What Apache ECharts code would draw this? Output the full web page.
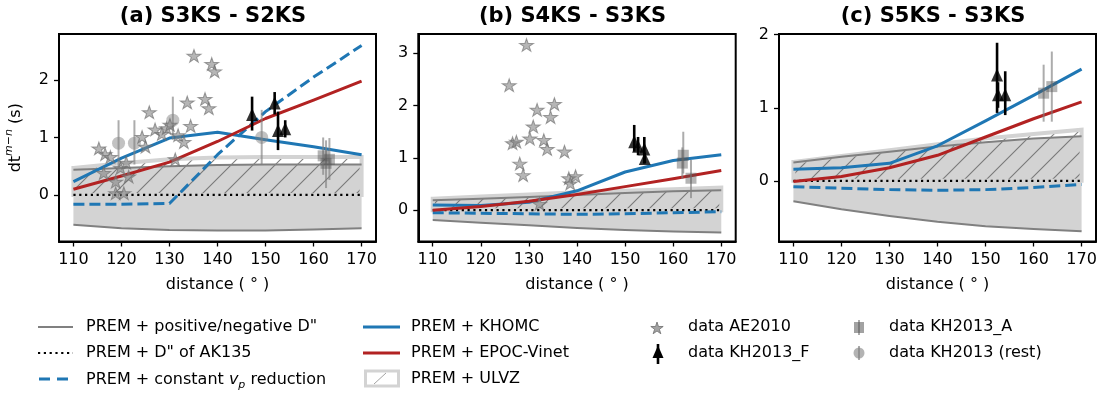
<!DOCTYPE html>
<html><head><meta charset="utf-8">
<script src="https://cdn.jsdelivr.net/npm/echarts@6/dist/echarts.min.js"></script>
<style>html,body{margin:0;padding:0;background:#fff}#c{width:1102px;height:395px}</style>
</head><body><div id="c"></div>
<script>
// ---------------- data ----------------
const distances = [110, 120, 130, 140, 150, 160, 170];
const xTicks = [110, 120, 130, 140, 150, 160, 170];
const yTicksA = [0, 1, 2];
const yTicksB = [0, 1, 2, 3];
const yTicksC = [0, 1, 2];
const panelTitles = ['(a) S3KS - S2KS', '(b) S4KS - S3KS', '(c) S5KS - S3KS'];

// panel (a) S3KS - S2KS
const posDA   = [0.44, 0.47, 0.50, 0.52, 0.53, 0.53, 0.53];
const negDA   = [-0.52, -0.58, -0.61, -0.62, -0.62, -0.60, -0.58];
const ulvzA   = [0.47, 0.55, 0.62, 0.65, 0.66, 0.66, 0.66];
const ak135A  = [0, 0, 0, 0, 0, 0, 0];
const vpRedA  = [-0.16, -0.16, -0.15, 0.70, 1.45, 2.05, 2.60];
const khomcA  = [0.23, 0.64, 0.99, 1.09, 0.96, 0.84, 0.70];
const epocA   = [0.10, 0.33, 0.57, 0.93, 1.33, 1.65, 1.98];
const starsA  = [[115.3,0.81],[116.6,0.71],[117.7,0.66],[116.3,0.38],[118.8,0.23],[119.8,0.47],[121.0,0.56],[121.5,0.32],[118.8,0.03],[120.5,0.03],[124.3,1.01],[125.0,0.84],[125.8,1.44],[127.0,1.14],[128.4,1.06],[129.4,1.16],[130.1,1.22],[131.8,1.04],[133.0,0.92],[131.2,0.62],[134.4,1.20],[133.7,1.61],[137.4,1.67],[138.2,1.51],[135.1,2.42],[138.8,2.28],[139.4,2.15]];
const triA    = [[147.2,1.40,1.12,1.71],[151.9,1.60,1.40,1.79],[152.6,1.12,0.78,1.45],[154.1,1.15,1.00,1.30]]; // x, y, low, high
const sqA     = [[162.0,0.68,0.35,1.00],[162.6,0.55,0.12,0.95],[163.3,0.62,0.26,0.99]];
const circA   = [[119.4,0.90,0.49,1.30],[122.7,0.90,0.53,1.30],[130.7,1.30,0.96,1.71],[149.2,1.00,0.52,1.48]];

// panel (b) S4KS - S3KS
const posDB   = [0.19, 0.22, 0.25, 0.29, 0.33, 0.36, 0.38];
const negDB   = [-0.19, -0.24, -0.29, -0.34, -0.38, -0.41, -0.43];
const ulvzB   = [0.22, 0.26, 0.30, 0.34, 0.37, 0.40, 0.43];
const ak135B  = [0, 0, 0, 0, 0, 0, 0];
const vpRedB  = [-0.05, -0.06, -0.07, -0.08, -0.07, -0.05, -0.03];
const khomcB  = [0.10, 0.09, 0.15, 0.37, 0.73, 0.95, 1.06];
const epocB   = [0.00, 0.07, 0.17, 0.30, 0.45, 0.60, 0.76];
const starsB  = [[129.5,3.16],[125.9,2.39],[135.3,2.03],[131.7,1.92],[134.5,1.78],[130.9,1.60],[130.2,1.37],[133.1,1.34],[126.6,1.28],[127.4,1.31],[133.8,1.17],[137.4,1.12],[128.1,0.89],[128.8,0.67],[138.3,0.61],[139.7,0.65],[138.6,0.51],[132.2,0.12]];
const triB    = [[151.9,1.31,1.12,1.63],[152.7,1.22,1.05,1.40],[154.0,1.17,0.89,1.40],[154.1,0.99,0.90,1.10]];
const sqB     = [[162.1,1.05,0.70,1.50],[161.9,0.90,0.60,1.20],[163.7,0.61,0.23,0.96]];
const circB   = [];

// panel (c) S5KS - S3KS
const posDC   = [0.25, 0.33, 0.40, 0.47, 0.53, 0.58, 0.61];
const negDC   = [-0.28, -0.39, -0.48, -0.56, -0.62, -0.66, -0.69];
const ulvzC   = [0.26, 0.34, 0.42, 0.50, 0.58, 0.64, 0.70];
const ak135C  = [0, 0, 0, 0, 0, 0, 0];
const vpRedC  = [-0.08, -0.10, -0.12, -0.13, -0.12, -0.09, -0.05];
const khomcC  = [0.16, 0.18, 0.24, 0.48, 0.82, 1.17, 1.53];
const epocC   = [-0.01, 0.06, 0.18, 0.35, 0.60, 0.85, 1.08];
const starsC  = [];
const triC    = [[152.4,1.45,0.93,1.89],[152.6,1.18,1.00,1.35],[154.1,1.18,0.90,1.50]];
const sqC     = [[162.1,1.20,0.81,1.59],[163.8,1.29,0.81,1.77]];
const circC   = [];

// ---------------- styling / layout ----------------
const FONT = 'DejaVu Sans';
const BLUE = '#1f77b4', RED = '#b22222', GRAY = '#808080', LGRAY = '#d3d3d3';
const STAR = 'path://M0,-10 L2.245,-3.09 L9.51,-3.09 L3.633,1.18 L5.88,8.09 L0,3.82 L-5.88,8.09 L-3.633,1.18 L-9.51,-3.09 L-2.245,-3.09 Z';
const STAR_FILL = 'rgba(128,128,128,0.72)', STAR_EDGE = 'rgba(110,110,110,0.8)';

const panels = [
  {grid:{left:59, top:34, width:317, height:207.5}, ymin:-0.81, ymax:2.80, yTicks:yTicksA,
   pos:posDA, neg:negDA, ulvz:ulvzA, ak:ak135A, vp:vpRedA, kh:khomcA, ep:epocA, stars:starsA, tri:triA, sq:sqA, circ:circA},
  {grid:{left:418.3, top:34, width:317.4, height:207.5}, ymin:-0.60, ymax:3.37, yTicks:yTicksB,
   pos:posDB, neg:negDB, ulvz:ulvzB, ak:ak135B, vp:vpRedB, kh:khomcB, ep:epocB, stars:starsB, tri:triB, sq:sqB, circ:circB},
  {grid:{left:779, top:34, width:317, height:207.5}, ymin:-0.83, ymax:2.01, yTicks:yTicksC,
   pos:posDC, neg:negDC, ulvz:ulvzC, ak:ak135C, vp:vpRedC, kh:khomcC, ep:epocC, stars:starsC, tri:triC, sq:sqC, circ:circC}
];

function makeHatch() {
  const s = 22;
  const c = document.createElement('canvas');
  c.width = s; c.height = s;
  const g = c.getContext('2d');
  g.strokeStyle = 'rgba(105,105,105,0.85)';
  g.lineWidth = 1.1;
  g.beginPath();
  for (let k = -1; k <= 1; k++) {
    g.moveTo(-2, s + 2 + k * s);
    g.lineTo(s + 2, -2 + k * s);
  }
  g.stroke();
  return c;
}
const hatch = makeHatch();

function pairs(ys) { return distances.map((d, k) => [d, ys[k]]); }

function bandSeries(gi, lo, hi, style, z) {
  return {
    type: 'custom', xAxisIndex: gi, yAxisIndex: gi, z: z, silent: true, clip: true,
    data: [[distances[0], 0]],
    renderItem: function (params, api) {
      const pts = [];
      for (let k = 0; k < distances.length; k++) pts.push(api.coord([distances[k], hi[k]]));
      for (let k = distances.length - 1; k >= 0; k--) pts.push(api.coord([distances[k], lo[k]]));
      return {type: 'polygon', shape: {points: pts}, style: style};
    }
  };
}

function errSeries(gi, rows, color, width, z) {
  return {
    type: 'custom', xAxisIndex: gi, yAxisIndex: gi, z: z, silent: true,
    data: rows.map(r => [r[0], r[2], r[3]]),
    encode: {x: 0, y: [1, 2]},
    renderItem: function (params, api) {
      const a = api.coord([api.value(0), api.value(1)]);
      const b = api.coord([api.value(0), api.value(2)]);
      return {type: 'line', shape: {x1: a[0], y1: a[1], x2: b[0], y2: b[1]}, style: {stroke: color, lineWidth: width}};
    }
  };
}

function lineSeries(gi, ys, color, width, type, z) {
  return {
    type: 'line', xAxisIndex: gi, yAxisIndex: gi, data: pairs(ys), showSymbol: false, symbol: 'none',
    lineStyle: {color: color, width: width, type: type, cap: 'butt', join: 'round'}, z: z, silent: true, animation: false
  };
}

function scatterSeries(gi, pts, symbol, size, color, border, z) {
  return {
    type: 'scatter', xAxisIndex: gi, yAxisIndex: gi, data: pts.map(p => [p[0], p[1]]),
    symbol: symbol, symbolSize: size, symbolKeepAspect: true,
    itemStyle: {color: color, borderColor: border || 'rgba(0,0,0,0)', borderWidth: border ? 1 : 0}, z: z, silent: true
  };
}

const grids = [], xAxes = [], yAxes = [], series = [], titles = [];
panels.forEach((P, i) => {
  grids.push(Object.assign({show: true, borderColor: '#000', borderWidth: 2, backgroundColor: 'rgba(0,0,0,0)'}, P.grid));
  titles.push({text: panelTitles[i], left: P.grid.left + P.grid.width / 2 - 4.5, top: 6, textAlign: 'center', padding: 0,
    textStyle: {fontFamily: FONT, fontWeight: 'bold', fontSize: 21, color: '#000'}});
  xAxes.push({
    gridIndex: i, type: 'value', min: 107, max: 173,
    axisLine: {show: true, onZero: false, lineStyle: {color: '#000', width: 2}},
    axisTick: {show: true, length: 5, customValues: xTicks, lineStyle: {color: '#000', width: 1.3}},
    axisLabel: {customValues: xTicks, fontFamily: FONT, fontSize: 16, color: '#000', margin: 10},
    splitLine: {show: false},
    name: 'distance ( ° )', nameLocation: 'middle', nameGap: 35,
    nameTextStyle: {fontFamily: FONT, fontSize: 16, color: '#000'}
  });
  const ya = {
    gridIndex: i, type: 'value', min: P.ymin, max: P.ymax,
    axisLine: {show: true, onZero: false, lineStyle: {color: '#000', width: 2}},
    axisTick: {show: true, length: 5, customValues: P.yTicks, lineStyle: {color: '#000', width: 1.3}},
    axisLabel: {customValues: P.yTicks, fontFamily: FONT, fontSize: 16, color: '#000', margin: 10},
    splitLine: {show: false}
  };
  if (i === 0) {
    ya.name = '{a|dt}{b|m−n}{a| (s)}';
    ya.nameLocation = 'middle';
    ya.nameGap = 31;
    ya.nameTextStyle = {fontFamily: FONT, fontSize: 16, color: '#000', rich: {
      a: {fontFamily: FONT, fontSize: 16, color: '#000', lineHeight: 24},
      b: {fontFamily: FONT, fontSize: 11, color: '#000', fontStyle: 'italic', verticalAlign: 'top'}
    }};
  }
  yAxes.push(ya);

  series.push(bandSeries(i, P.neg, P.pos, {fill: LGRAY}, 1));
  series.push(bandSeries(i, P.ak, P.ulvz, {fill: {image: hatch, repeat: 'repeat'}, stroke: LGRAY, lineWidth: 4}, 2));
  series.push(lineSeries(i, P.pos, GRAY, 2, 'solid', 3));
  series.push(lineSeries(i, P.neg, GRAY, 2, 'solid', 3));
  series.push(lineSeries(i, P.ak, '#000', 2.2, [2.2, 3.6], 4));
  series.push(lineSeries(i, P.vp, BLUE, 3, [11, 5], 5));
  series.push(lineSeries(i, P.kh, BLUE, 3, 'solid', 6));
  series.push(lineSeries(i, P.ep, RED, 3, 'solid', 7));
  series.push(errSeries(i, P.sq.concat(P.circ), 'rgba(128,128,128,0.65)', 2, 8));
  series.push(scatterSeries(i, P.circ, 'circle', 13, 'rgba(128,128,128,0.6)', null, 9));
  series.push(scatterSeries(i, P.sq, 'rect', 11, 'rgba(85,85,85,0.55)', null, 9));
  series.push(scatterSeries(i, P.stars, STAR, [14, 13.3], STAR_FILL, STAR_EDGE, 10));
  series.push(errSeries(i, P.tri, '#000', 2.6, 11));
  series.push(scatterSeries(i, P.tri, 'triangle', [12, 13], '#000', null, 12));
});

// ---------------- legend (drawn with graphic elements) ----------------
const legendRows = [327, 353, 379];
const g = [];
function ltext(x, y, text, rich) {
  const st = {text: text, fill: '#000', fontFamily: FONT, fontSize: 16, verticalAlign: 'middle', align: 'left'};
  if (rich) st.rich = rich;
  g.push({type: 'text', x: x, y: y, silent: true, style: st});
}
function lline(x1, x2, y, color, w, dash) {
  const st = {stroke: color, lineWidth: w};
  if (dash) st.lineDash = dash;
  g.push({type: 'line', silent: true, shape: {x1: x1, y1: y, x2: x2, y2: y}, style: st});
}
function starPoints(cx, cy, R) {
  const pts = [];
  for (let k = 0; k < 10; k++) {
    const r = k % 2 === 0 ? R : R * 0.382;
    const a = -Math.PI / 2 + k * Math.PI / 5;
    pts.push([cx + r * Math.cos(a), cy + r * Math.sin(a)]);
  }
  return pts;
}
// column 1
lline(38, 73, legendRows[0], GRAY, 2);
ltext(86, legendRows[0], 'PREM + positive/negative D"');
lline(38, 73, legendRows[1], '#000', 2.2, [2.2, 3.6]);
ltext(86, legendRows[1], 'PREM + D" of AK135');
lline(39, 73, legendRows[2], BLUE, 3, [11, 7]);
ltext(86, legendRows[2] + 1, '{t|PREM + constant }{i|v}{s|p}{t| reduction}', {
  t: {fontFamily: FONT, fontSize: 16, fill: '#000', lineHeight: 22},
  i: {fontFamily: FONT, fontSize: 16, fill: '#000', fontStyle: 'italic', lineHeight: 22},
  s: {fontFamily: FONT, fontSize: 11, fill: '#000', fontStyle: 'italic', verticalAlign: 'bottom'}
});
// column 2
lline(363, 400, legendRows[0], BLUE, 3);
ltext(411, legendRows[0], 'PREM + KHOMC');
lline(363, 400, legendRows[1], RED, 3);
ltext(411, legendRows[1], 'PREM + EPOC-Vinet');
g.push({type: 'rect', silent: true, shape: {x: 365.5, y: 371, width: 33, height: 15},
  style: {fill: '#fff', stroke: LGRAY, lineWidth: 3}});
g.push({type: 'line', silent: true, shape: {x1: 374, y1: 384, x2: 386, y2: 373},
  style: {stroke: 'rgba(140,140,140,0.8)', lineWidth: 1}});
ltext(411, legendRows[2], 'PREM + ULVZ');
// column 3
g.push({type: 'polygon', silent: true, shape: {points: starPoints(657, 328.5, 6.5)},
  style: {fill: STAR_FILL, stroke: STAR_EDGE, lineWidth: 1}});
ltext(688, legendRows[0], 'data AE2010');
g.push({type: 'line', silent: true, shape: {x1: 658, y1: 344, x2: 658, y2: 364}, style: {stroke: '#000', lineWidth: 2.6}});
g.push({type: 'polygon', silent: true, shape: {points: [[658, 345.5], [652.5, 358], [663.5, 358]]}, style: {fill: '#000'}});
ltext(688, legendRows[1], 'data KH2013_F');
// column 4
g.push({type: 'line', silent: true, shape: {x1: 859, y1: 320, x2: 859, y2: 335}, style: {stroke: 'rgba(128,128,128,0.65)', lineWidth: 2}});
g.push({type: 'rect', silent: true, shape: {x: 854, y: 322, width: 10, height: 11}, style: {fill: 'rgba(85,85,85,0.55)'}});
ltext(889, legendRows[0], 'data KH2013_A');
g.push({type: 'line', silent: true, shape: {x1: 859, y1: 346, x2: 859, y2: 360}, style: {stroke: 'rgba(128,128,128,0.65)', lineWidth: 2}});
g.push({type: 'circle', silent: true, shape: {cx: 859, cy: 353, r: 5.5}, style: {fill: 'rgba(128,128,128,0.6)'}});
ltext(889, legendRows[1], 'data KH2013 (rest)');

const chart = echarts.init(document.getElementById('c'), null, {renderer: 'canvas'});
chart.setOption({
  animation: false,
  backgroundColor: '#fff',
  textStyle: {fontFamily: FONT},
  title: titles,
  grid: grids,
  xAxis: xAxes,
  yAxis: yAxes,
  series: series,
  graphic: g
});
</script></body></html>
